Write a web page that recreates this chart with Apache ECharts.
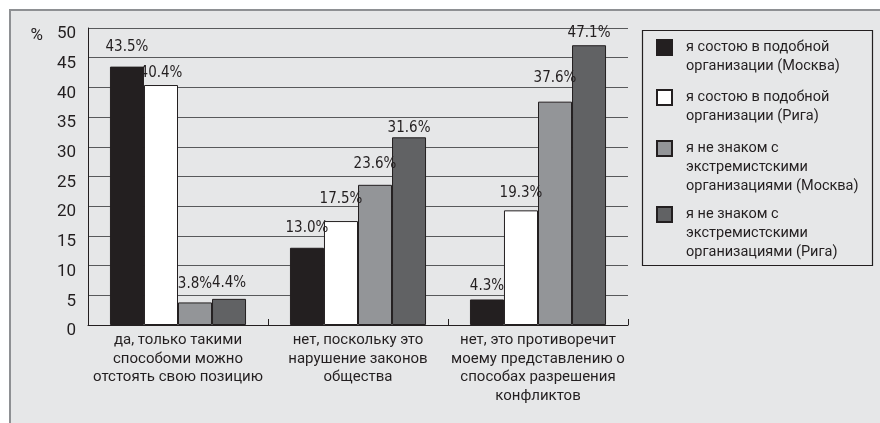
<!DOCTYPE html>
<html>
<head>
<meta charset="utf-8">
<script src="https://cdn.jsdelivr.net/npm/echarts@6/dist/echarts.min.js"></script>
<style>
html,body{margin:0;padding:0;background:#ffffff;}
#chart{width:880px;height:423px;}
</style>
</head>
<body>
<div id="chart"></div>
<script>
// ---- data ----
const categories = [
  'да, только такими\nспособоми можно\nотстоять свою позицию',
  'нет, поскольку это\nнарушение законов\nобщества',
  'нет, это противоречит\nмоему представлению о\nспособах разрешения\nконфликтов'
];
const seriesNames = [
  'я состою в подобной\nорганизации (Москва)',
  'я состою в подобной\nорганизации (Рига)',
  'я не знаком с\nэкстремистскими\nорганизациями (Москва)',
  'я не знаком с\nэкстремистскими\nорганизациями (Рига)'
];
const memberMoscow = [43.5, 13.0, 4.3];
const memberRiga = [40.4, 17.5, 19.3];
const unawareMoscow = [3.8, 23.6, 37.6];
const unawareRiga = [4.4, 31.6, 47.1];
const yTicks = [0, 5, 10, 15, 20, 25, 30, 35, 40, 45, 50];

// ---- styles ----
const INK = '#231f20';
const colors = ['#231f20', '#ffffff', '#939598', '#616264'];
const labelDistance = [
  [12, 12, 6],
  [4, 14, 10],
  [11, 13, 16],
  [8, 2, 5]
];
const legendIconCenters = [47.5, 97.5, 148.5, 214.5];
const LH = 19;

const allValues = [memberMoscow, memberRiga, unawareMoscow, unawareRiga];

const series = allValues.map((vals, si) => ({
  name: seriesNames[si],
  type: 'bar',
  barGap: '0%',
  barCategoryGap: '24.4%',
  itemStyle: { color: colors[si], borderColor: INK, borderWidth: 1 },
  label: {
    show: true,
    position: 'top',
    fontFamily: '"Liberation Sans Narrow", "DejaVu Sans Condensed", sans-serif',
    fontSize: 15,
    color: INK,
    formatter: p => p.value.toFixed(1) + '%'
  },
  emphasis: { disabled: true },
  data: vals.map((v, ci) => ({ value: v, label: { distance: labelDistance[si][ci] } }))
}));

const legends = seriesNames.map((name, i) => {
  const n = name.split('\n').length;
  return {
    orient: 'vertical',
    left: 656,
    top: legendIconCenters[i] - (2 * n - 1) * LH / 2,
    padding: 0,
    itemWidth: 15,
    itemHeight: 15,
    icon: 'rect',
    data: [name],
    formatter: nm => '\n'.repeat(n - 1) + nm,
    textStyle: { fontFamily: 'Roboto, sans-serif', fontSize: 14.5, lineHeight: LH, color: INK, padding: [0, 0, 0, 9] }
  };
});

const chart = echarts.init(document.getElementById('chart'), null, { renderer: 'canvas' });
chart.setOption({
  backgroundColor: '#ffffff',
  animation: false,
  graphic: [
    { type: 'rect', z: -10, shape: { x: 10, y: 10, width: 900, height: 440 },
      style: { fill: '#e6e7e8', stroke: '#8e9093', lineWidth: 2 } },
    { type: 'rect', z: -5, shape: { x: 642.5, y: 30.5, width: 230, height: 235 },
      style: { fill: 'transparent', stroke: INK, lineWidth: 1.2 } }
  ],
  grid: { left: 88, right: 252, top: 28, bottom: 98, containLabel: false },
  legend: legends,
  xAxis: {
    type: 'category',
    data: categories,
    axisLine: { lineStyle: { color: INK, width: 1 } },
    axisTick: { show: true, inside: true, length: 6, lineStyle: { color: INK } },
    axisLabel: { interval: 0, margin: 6, fontFamily: 'Roboto, sans-serif', fontSize: 15, lineHeight: 18.5, color: INK }
  },
  yAxis: {
    type: 'value',
    min: 0, max: 50, interval: 5,
    name: '%',
    nameLocation: 'end',
    nameGap: -8,
    nameTextStyle: { fontFamily: 'Roboto, sans-serif', fontSize: 17, color: INK, align: 'right', verticalAlign: 'middle', padding: [0, 45, 0, 0] },
    axisLine: { show: true, lineStyle: { color: INK, width: 1 } },
    axisTick: { show: false },
    splitLine: { lineStyle: { color: '#58595b', width: 1 } },
    axisLabel: {
      margin: 12, fontFamily: 'Roboto, sans-serif', fontSize: 17, color: INK,
      verticalAlign: 'top', lineHeight: 12,
      formatter: v => yTicks.includes(v) ? String(v) : ''
    }
  },
  series: series
});
</script>
</body>
</html>
